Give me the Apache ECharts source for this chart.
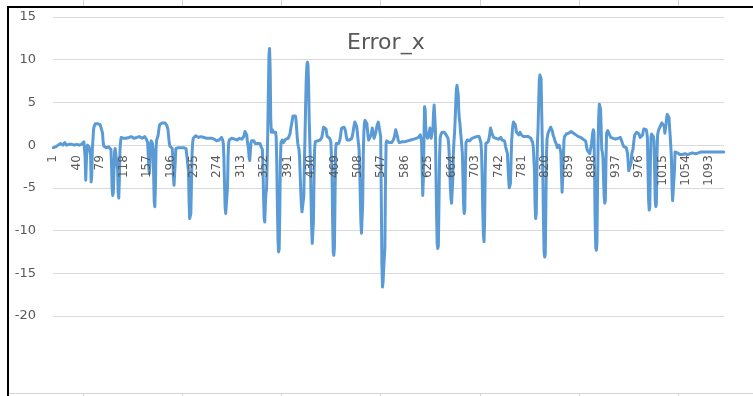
<!DOCTYPE html>
<html>
<head>
<meta charset="utf-8">
<script src="https://cdn.jsdelivr.net/npm/echarts@6/dist/echarts.min.js"></script>
<style>
  html, body { margin: 0; padding: 0; background: #fff; }
  #chart { width: 753px; height: 396px; }
</style>
</head>
<body>
<div id="chart"></div>
<script>
// Error_x readings, points 1..236
const errorXPart1 = [
  -0.3,-0.3,-0.3,-0.3,-0.2,-0.3,-0.2,-0.1,0,0.1,0.1,0.1,
  0.2,0.1,0.2,0.1,0,0.1,0.2,0.3,0.2,0.1,0,0,0.1,0.2,0.2,0.1,0,-0.1,0,0.1,
  0.1,0.2,0.1,0,0,-0.1,0,0.1,0.2,0.1,0.1,0,-0.1,-0.1,0,0.1,0.2,0.3,
  0.3,0.4,0.2,-1.5,-4.1,-2.0,-0.3,0,0.1,-0.2,-0.3,-0.2,-1.2,-4.3,-3.6,-0.5,0.6,1.8,2.2,2.4,2.5,2.6,2.5,
  2.6,2.5,2.6,2.5,2.5,2.4,2.5,2.3,2.2,1.4,0.3,
  -0.1,-0.3,-0.3,-0.2,-0.3,-0.4,-0.3,-0.3,-0.2,-0.3,-0.4,-0.3,-0.5,
  -2.5,-5.2,-5.9,-5.5,-3.0,-0.8,-0.4,-0.3,-0.5,-0.4,-2.8,-5.6,-6.2,-4.0,-0.6,0.4,0.9,1.1,1.0,0.9,
  0.8,0.9,1.0,0.9,0.8,0.8,0.9,1.0,1.0,0.9,0.8,0.9,0.9,1.0,1.1,1.0,0.9,0.8,0.8,0.9,
  1.0,1.0,0.9,0.9,0.8,0.9,1.0,1.1,1.0,0.9,0.9,0.8,0.8,0.9,0.9,1.0,0.9,0.8,0.7,0.6,
  0.3,-1.0,-2.8,-3.3,-2.0,0.2,0.5,0.4,0.2,-0.5,-3.5,-6.6,-7.2,-5.0,-0.5,0.6,0.8,1.0,1.4,2.0,2.4,
  2.5,2.6,2.5,2.6,2.5,2.4,2.5,2.5,2.6,2.5,2.4,2.3,2.2,1.8,1.0,0.3,-0.1,-0.3,
  -0.3,-0.2,-0.4,-1.5,-3.8,-4.7,-4.6,-2.0,-0.4,-0.2,-0.3,-0.2,-0.3,-0.4,-0.3,-0.2,-0.2,-0.3,-0.4,-0.3,
  -0.2,-0.3,-0.3,-0.2,-0.3,-0.4,-0.5,-0.4,-0.6,-3.0,-6.5,-8.6,-8.8,-8.0,-4.5,-1.0,0.3,0.8,1.0,1.0
];

// points 237..440
const errorXPart2 = [
  1.0,1.1,1.0,0.9,1.0,1.0,0.9,0.9,0.8,0.9,1.0,0.9,0.9,0.8,0.8,0.9,0.9,1.0,0.9,0.8,
  0.8,0.9,0.9,0.8,0.7,0.8,0.9,0.9,0.8,0.8,0.9,0.8,0.7,0.8,0.8,0.6,0.5,0.5,0.4,0.5,
  0.6,0.5,0.6,0.8,0.9,0.8,0.6,
  0.2,-1.5,-4.5,-7.2,-8.0,-7.8,-7.9,-5.0,-1.2,0.3,0.6,
  0.7,0.6,0.7,0.8,0.8,0.7,0.6,0.6,0.7,0.8,0.7,0.7,0.6,0.5,0.6,0.7,0.8,0.7,0.6,0.6,0.7,0.8,0.9,1.0,
  1.2,1.6,1.7,1.5,1.2,0.5,0.3,-0.5,-1.5,-1.8,-0.8,0.2,0.5,0.4,0.5,0.6,0.5,0.3,0.2,0.3,
  0.4,0.3,0.2,0.1,0.2,0.3,0.2,0.0,-0.2,-0.3,
  -0.5,-2.5,-6.0,-8.5,-9.0,-7.0,-5.6,-5.2,-2.0,1.5,6.0,10.5,11.3,9.0,3.0,1.5,1.6,1.8,1.5,1.4,
  1.6,1.7,1.5,1.0,-2.0,-7.0,-11.0,-12.5,-12.2,-8.0,-2.0,0.3,
  0.5,0.6,0.4,0.3,0.2,0.4,0.5,0.7,0.8,0.8,0.9,0.8,0.8,1.0,1.3,1.8,2.2,2.6,3.0,3.4,
  3.6,3.5,3.3,3.4,3.0,2.0,1.0,0.2,-0.2,-0.5,-1.5,
  -3.5,-5.5,-7.0,-7.8,-8.0,-7.9,-6.0,-2.0,1.0,4.5,7.5,9.2,9.7,9.4,7.0,3.0,0.5,-2.0,-6.0,-9.5,
  -11.5,-11.6,-9.0,-4.0,-0.5,0.4,0.6,0.5,0.6
];

// points 441..645
const errorXPart3 = [
  0.5,0.6,0.4,0.5,0.6,0.5,0.7,0.9,1.3,1.8,2.1,2.2,2.0,2.1,1.9,1.4,1.0,0.9,1.0,1.0,0.8,0.6,0.4,0.2,
  -3.0,-9.0,-12.5,-12.9,-12.0,-6.0,-0.5,0.2,0.3,0.4,0.3,0.2,0.4,0.6,
  1.0,1.6,2.0,2.1,1.9,2.0,2.1,2.0,1.8,1.4,0.9,0.6,0.5,0.4,0.5,0.6,0.5,0.4,0.6,0.8,
  1.0,1.5,2.0,2.4,2.7,2.6,2.5,2.2,1.6,0.8,0.2,-0.5,-2.5,-6.0,
  -9.0,-10.3,-10.2,-7.0,-1.0,1.5,2.6,2.9,2.8,2.9,2.5,1.8,1.0,0.6,0.4,0.5,0.8,1.2,1.6,2.0,
  1.8,1.2,0.8,0.6,0.9,1.5,2.0,2.3,2.5,2.7,2.8,
  2.7,2.6,1.0,-6.0,-14.0,-16.6,-16.0,-14.5,-14.3,-12.0,-4.0,0.2,0.5,0.6,0.5,0.4,0.3,0.4,0.5,0.4,
  0.3,0.4,0.5,0.6,0.8,1.0,1.4,1.8,1.9,1.7,1.0,0.6,0.4,
  0.3,0.3,0.4,0.3,0.3,0.4,0.4,0.3,0.3,0.4,0.4,0.5,0.4,0.4,0.5,0.5,0.4,0.5,0.5,0.6,
  0.5,0.5,0.6,0.6,0.7,0.6,0.6,0.7,0.8,0.7,0.8,0.8,0.9,1.0,1.1,1.2,
  1.2,0.5,-3.0,-5.9,-4.0,0.5,4.5,4.2,2.0,1.2,1.0,0.8,0.9,1.2,1.6,2.0,1.4,0.8,0.7,1.0,
  2.0,3.8,4.7,4.5,2.0,-3.0,-8.0,-11.5,-12.1,-11.8,-7.0,-1.5,0.8
];

// points 646..895
const errorXPart4 = [
  1.2,1.4,1.5,1.6,1.5,1.4,1.5,1.6,1.4,1.2,1.0,1.1,0.8,0.3,-1.0,-3.0,-5.0,-6.2,
  -6.8,-6.6,-4.0,-1.0,0.5,1.5,3.0,5.0,6.5,7.0,6.8,6.0,4.0,3.0,2.5,1.5,0.8,0.6,-1.0,-4.0,
  -7.0,-8.0,-7.5,-3.0,
  0.3,0.5,0.6,0.5,0.6,0.7,0.5,0.4,0.6,0.7,0.8,0.7,0.6,0.8,0.9,0.8,0.7,0.9,1.0,1.1,
  1.0,0.9,1.0,0.8,0.5,0.2,-1.0,-4.0,-8.0,-10.5,
  -11.3,-9.0,-3.0,0.2,0.4,0.3,0.2,0.4,0.6,1.0,1.6,2.0,2.1,1.8,1.2,1.0,0.9,1.0,0.8,0.7,
  0.8,0.9,1.0,0.8,0.7,0.6,0.7,0.8,0.9,0.8,0.6,0.7,0.8,0.7,0.5,0.2,-0.2,0.0,-0.3,-1.0,
  -2.5,-4.0,-5.0,
  -5.1,-4.5,-2.0,0.5,1.5,2.3,2.7,2.8,2.6,2.4,2.0,1.5,1.4,1.5,1.3,1.2,1.4,1.5,1.3,1.2,
  1.1,1.2,1.1,1.0,1.1,1.2,1.1,1.0,0.9,1.0,1.1,1.0,0.9,0.8,0.9,0.8,0.7,0.6,0.3,-0.2,
  -0.3,-3.0,-7.0,-8.6,-8.0,-3.0,0.3,2.0,5.0,7.5,8.2,8.1,7.8,4.0,0.3,-4.0,-9.0,-12.5,-13.1,-12.8,
  -7.0,-1.0,
  0.8,1.2,1.5,1.6,1.8,2.0,2.1,2.0,1.9,1.6,1.2,1.0,0.8,0.5,0.4,0.2,0.0,-0.3,-0.5,-0.3,
  0.0,-0.2,-0.5,-1.0,-3.5,-5.5,-5.3,-2.0,
  0.5,1.0,1.2,1.1,1.3,1.2,1.1,1.3,1.4,1.2,1.3,1.5,1.6,1.5,1.4,1.5,1.4,1.3,1.2,1.3,
  1.2,1.1,1.0,1.1,1.0,0.9,1.0,1.0,0.9,0.8,0.9,0.8,0.7,0.8,0.7,0.6,0.5,0.2,-0.3,-0.6,
  -0.7,-0.6,-0.8,-1.0,-0.6
];

// points 896..1117
const errorXPart5 = [
  -0.3,0.2,0.8,1.5,1.8,1.5,-3.0,-9.0,-12.0,-12.3,-11.5,-5.0,0.5,3.5,4.8,4.9,4.2,2.0,-0.5,-0.8,
  -1.5,-4.0,-6.0,-6.8,-6.5,-2.0,1.4,1.6,1.7,1.6,1.5,1.2,1.0,0.9,0.8,
  0.8,0.9,0.8,0.8,0.9,0.8,0.7,0.8,0.8,0.9,0.8,0.8,0.7,0.8,0.9,0.7,0.5,0.3,0.1,-0.1,
  -0.2,-0.3,-0.2,-0.4,-0.3,-0.5,-1.0,-2.0,-3.0,-3.1,-2.8,-3.0,-2.0,-1.0,-0.8,-0.5,0.2,0.8,1.2,
  1.3,1.4,1.5,1.4,1.3,1.4,1.3,1.1,0.9,0.8,0.8,0.9,1.2,1.6,1.9,2.0,2.1,2.0,1.8,1.5,
  0.8,-3.0,-6.5,-7.6,-7.2,-2.0,1.0,1.3,1.4,1.2,1.0,0.5,-3.0,-6.5,-7.2,-6.8,
  -1.0,1.2,1.6,1.8,2.0,2.2,2.3,2.5,2.6,2.7,2.6,2.7,2.2,1.4,1.6,2.4,3.2,3.6,3.7,3.6,
  3.2,2.0,1.0,0.8,-1.5,-5.0,-6.5,-6.6,-6.3,-3.0,-0.8,-0.6,-0.6,-0.7,-0.9,
  -1.0,-1.1,-1.0,-1.1,-1.2,-1.1,-1.0,-1.1,-1.1,-1.2,-1.1,-1.1,-1.0,-1.1,-1.1,-1.0,-1.1,-1.0,-1.0,-1.1,
  -1.0,-1.0,-1.0,-1.0,-0.9,-1.0,-1.0,-0.9,-0.9,-1.0,-0.9,-0.9,-0.9,-0.9,-0.9,-0.8,-0.9,-0.9,-0.8,-0.8,
  -0.8,-0.8,-0.8,-0.8,-0.8,-0.8,-0.8,-0.8,-0.8,-0.8,-0.8,-0.8,-0.8,-0.8,-0.8,-0.8,-0.8,-0.8,-0.8,-0.8,
  -0.8,-0.8,-0.8,-0.8,-0.8,-0.8,-0.8,-0.8,-0.8,-0.8,-0.8,-0.8,-0.8,-0.8,-0.8,-0.8,-0.8
];

const yMin = -20;
const yMax = 15;
const yStep = 5;
const labelEvery = 39; // 1, 40, 79, ...

const errorX = errorXPart1.concat(errorXPart2, errorXPart3, errorXPart4, errorXPart5);
const categories = errorX.map((v, i) => String(i + 1));

const textColor = '#595959';
const gridColor = '#d9d9d9';
const font = "'DejaVu Sans', Verdana, sans-serif";

// plot box, px
const gridTop = 17;
const gridBottom = 80;
const plotHeight = 396 - gridTop - gridBottom;
// move the category axis up so it sits on y = 0, like Excel does
const zeroOffset = -plotHeight * (0 - yMin) / (yMax - yMin);

// sheet cell borders around the pasted chart
const cellXs = [83, 182, 281, 380, 480, 579, 678];
const sheetMarks = [
  { type: 'rect', shape: { x: 7, y: 6, width: 746, height: 2 }, style: { fill: '#000' } },
  { type: 'rect', shape: { x: 7, y: 6, width: 2, height: 390 }, style: { fill: '#000' } },
  { type: 'line', shape: { x1: 9, y1: 393.5, x2: 753, y2: 393.5 }, style: { stroke: '#d4d4d4', lineWidth: 1 } }
];
cellXs.forEach(x => {
  sheetMarks.push({ type: 'line', shape: { x1: x + 0.5, y1: 0, x2: x + 0.5, y2: 6 }, style: { stroke: '#d4d4d4', lineWidth: 1 } });
  sheetMarks.push({ type: 'line', shape: { x1: x + 0.5, y1: 393, x2: x + 0.5, y2: 396 }, style: { stroke: '#d4d4d4', lineWidth: 1 } });
});

const myChart = echarts.init(document.getElementById('chart'), null, { renderer: 'canvas' });

myChart.setOption({
  animation: false,
  backgroundColor: '#fff',
  title: {
    text: 'Error_x',
    left: 342,
    top: 27,
    textStyle: { color: textColor, fontSize: 22, fontWeight: 'normal', fontFamily: font }
  },
  grid: { left: 53, right: 29, top: gridTop, bottom: gridBottom, containLabel: false },
  xAxis: {
    type: 'category',
    data: categories,
    boundaryGap: true,
    offset: zeroOffset,
    z: 10, // labels sit over the line, as in Excel
    axisLine: { show: false, onZero: false },
    axisTick: { show: false },
    axisLabel: {
      interval: labelEvery - 1,
      rotate: 90,
      margin: 10,
      color: textColor,
      fontSize: 12,
      fontFamily: font
    },
    splitLine: { show: false }
  },
  yAxis: {
    type: 'value',
    min: yMin,
    max: yMax,
    interval: yStep,
    axisLine: { show: false },
    axisTick: { show: false },
    axisLabel: { color: textColor, fontSize: 13, margin: 17, fontFamily: font },
    splitLine: { lineStyle: { color: gridColor, width: 1 } }
  },
  series: [{
    name: 'Error_x',
    type: 'line',
    data: errorX,
    showSymbol: false,
    symbol: 'none',
    lineStyle: { color: '#5b9bd5', width: 3, join: 'round', cap: 'round' },
    itemStyle: { color: '#5b9bd5' }
  }],
  graphic: sheetMarks
});
</script>
</body>
</html>
